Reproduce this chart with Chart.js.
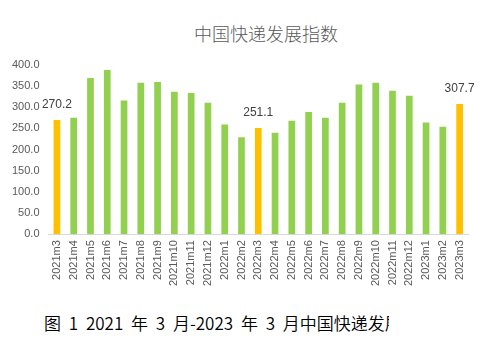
<!DOCTYPE html>
<html>
<head>
<meta charset="utf-8">
<script src="https://cdn.jsdelivr.net/npm/chart.js@4"></script>
<style>
  html, body { margin: 0; padding: 0; background: #fff; }
  #wrap { position: relative; width: 494px; height: 346px; overflow: hidden; }
  #chartBox { position: absolute; left: 0; top: 0; width: 494px; height: 300px; }
  #title { position: absolute; left: 0; width: 532px; top: 20px; text-align: center; line-height: 26px;
           font: 18px "Noto Sans CJK SC", sans-serif; color: #595959; font-weight: 300; }
  #caption { position: absolute; left: 44px; top: 310px; width: 345px; overflow: hidden; white-space: nowrap;
             line-height: 24px; font: 17px "Noto Sans CJK SC", sans-serif; font-weight: 350; color: #000; word-spacing: 4px; }
</style>
</head>
<body>
<div id="wrap">
  <div id="title">中国快递发展指数</div>
  <div id="chartBox"><canvas id="c"></canvas></div>
  <div id="caption">图 1 2021 年 3 月-2023 年 3 月中国快递发展指数</div>
</div>
<script>
// Monthly periods, March 2021 to March 2023
const months = ['2021m3','2021m4','2021m5','2021m6','2021m7','2021m8','2021m9','2021m10','2021m11','2021m12',
                '2022m1','2022m2','2022m3','2022m4','2022m5','2022m6','2022m7','2022m8','2022m9','2022m10',
                '2022m11','2022m12','2023m1','2023m2','2023m3'];
// China express delivery development index
const indexValues = [270.2, 275, 369, 388, 316, 358, 360, 337, 334, 311,
                     259, 229, 251.1, 240, 268, 289, 275, 311, 354, 358,
                     339, 327, 264, 254, 307.7];
// Periods marked in yellow and labelled with their value
const highlighted = ['2021m3', '2022m3', '2023m3'];
const yTicks = [0, 50, 100, 150, 200, 250, 300, 350, 400];

const barColors = months.map(m => highlighted.includes(m) ? '#FFC000' : '#92D050');

const valueLabels = {
  id: 'valueLabels',
  afterDatasetsDraw(chart) {
    const ctx = chart.ctx;
    const meta = chart.getDatasetMeta(0);
    ctx.save();
    ctx.font = '12px "Liberation Sans", Arial, sans-serif';
    ctx.fillStyle = '#404040';
    ctx.textAlign = 'center';
    ctx.textBaseline = 'middle';
    meta.data.forEach((bar, i) => {
      if (!highlighted.includes(months[i])) return;
      ctx.fillText(indexValues[i].toFixed(1), bar.x, bar.y - 15);
    });
    ctx.restore();
  }
};

new Chart(document.getElementById('c'), {
  type: 'bar',
  data: {
    labels: months,
    datasets: [{
      data: indexValues,
      backgroundColor: barColors,
      categoryPercentage: 0.8,
      barPercentage: 0.5
    }]
  },
  options: {
    responsive: true,
    maintainAspectRatio: false,
    animation: false,
    layout: { padding: { top: 65, left: 3, right: 26, bottom: 8 } },
    plugins: { legend: { display: false }, tooltip: { enabled: false } },
    scales: {
      x: {
        grid: { display: false, drawTicks: false },
        border: { display: true, color: '#d9d9d9', width: 1 },
        ticks: {
          minRotation: 90, maxRotation: 90, autoSkip: false, padding: 6,
          color: '#595959', font: { family: '"Liberation Sans", Arial, sans-serif', size: 11 }
        }
      },
      y: {
        min: 0, max: 400,
        afterBuildTicks(axis) { axis.ticks = yTicks.map(v => ({ value: v })); },
        grid: { display: false, drawTicks: false },
        border: { display: false },
        ticks: {
          padding: 9,
          color: '#595959', font: { family: '"Liberation Sans", Arial, sans-serif', size: 11 },
          callback: v => Number(v).toFixed(1)
        }
      }
    }
  },
  plugins: [valueLabels]
});
</script>
</body>
</html>
